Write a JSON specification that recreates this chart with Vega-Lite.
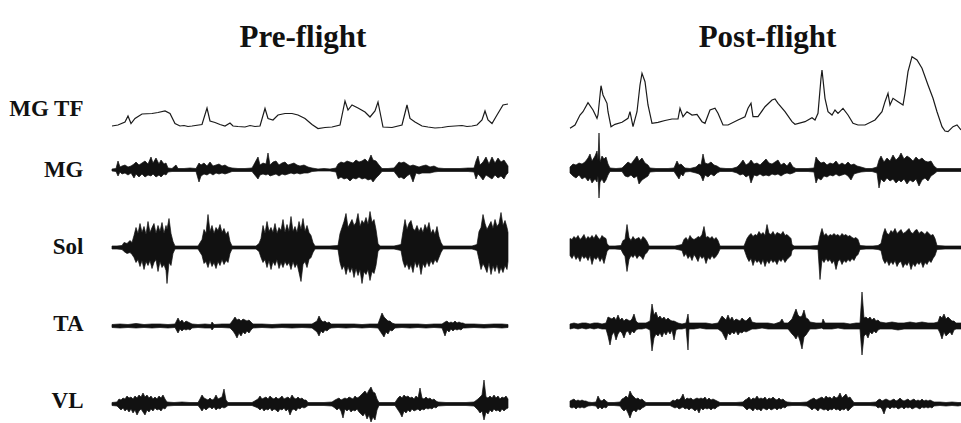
{
"$schema": "https://vega.github.io/schema/vega-lite/v6.json",
"autosize": {"type": "pad"},
"padding": {"left": 8, "top": 22, "right": 0, "bottom": 0},
"config": {"view": {"stroke": null}, "font": "Liberation Serif"},
"columns": 2,
"align": "each",
"bounds": "flush",
"spacing": {"row": 0, "column": 62},
"concat": [
 {"width": 396, "height": 84, "data": {"name": "preTF"},
  "title": {"text": "Pre-flight", "fontSize": 31, "fontWeight": "bold", "font": "Liberation Serif", "anchor": "middle", "dx": -7, "offset": -4, "color": "#111"},
  "mark": {"type": "line", "stroke": "#1a1a1a", "strokeWidth": 1.2},
  "encoding": {"x": {"field": "t", "type": "quantitative", "scale": {"domain": [0, 396], "nice": false, "zero": false}, "axis": null},
   "y": {"field": "v", "type": "quantitative", "scale": {"domain": [-8, 76], "nice": false, "zero": false},
    "axis": {"title": "MG TF", "titleAngle": 0, "titleAlign": "right", "titleBaseline": "middle", "titleX": -29, "titleY": 58, "titleFontSize": 23, "titleFontWeight": "bold", "titleFont": "Liberation Serif", "titleColor": "#111", "domain": false, "ticks": false, "labels": false, "grid": false}}}},
 {"width": 391, "height": 84, "data": {"name": "postTF"},
  "title": {"text": "Post-flight", "fontSize": 31, "fontWeight": "bold", "font": "Liberation Serif", "anchor": "middle", "dx": 2, "offset": -4, "color": "#111"},
  "mark": {"type": "line", "stroke": "#1a1a1a", "strokeWidth": 1.2},
  "encoding": {"x": {"field": "t", "type": "quantitative", "scale": {"domain": [0, 391], "nice": false, "zero": false}, "axis": null},
   "y": {"field": "v", "type": "quantitative", "scale": {"domain": [-8, 76], "nice": false, "zero": false}, "axis": null}}},
 {"width": 396, "height": 72, "data": {"name": "preMG"},
  "mark": {"type": "area", "fill": "#111", "stroke": "#111", "strokeWidth": 0.7},
  "encoding": {"x": {"field": "t", "type": "quantitative", "scale": {"domain": [0, 396], "nice": false, "zero": false}, "axis": null},
   "y": {"field": "hi", "type": "quantitative", "scale": {"domain": [-36, 36], "nice": false, "zero": false},
    "axis": {"title": "MG", "titleAngle": 0, "titleAlign": "right", "titleBaseline": "middle", "titleX": -29, "titleY": 35, "titleFontSize": 23, "titleFontWeight": "bold", "titleFont": "Liberation Serif", "titleColor": "#111", "domain": false, "ticks": false, "labels": false, "grid": false}},
   "y2": {"field": "lo"}}},
 {"width": 391, "height": 72, "data": {"name": "postMG"},
  "mark": {"type": "area", "fill": "#111", "stroke": "#111", "strokeWidth": 0.7},
  "encoding": {"x": {"field": "t", "type": "quantitative", "scale": {"domain": [0, 391], "nice": false, "zero": false}, "axis": null},
   "y": {"field": "hi", "type": "quantitative", "scale": {"domain": [-36, 36], "nice": false, "zero": false}, "axis": null},
   "y2": {"field": "lo"}}},
 {"width": 396, "height": 83, "data": {"name": "preSol"},
  "mark": {"type": "area", "fill": "#111", "stroke": "#111", "strokeWidth": 0.7},
  "encoding": {"x": {"field": "t", "type": "quantitative", "scale": {"domain": [0, 396], "nice": false, "zero": false}, "axis": null},
   "y": {"field": "hi", "type": "quantitative", "scale": {"domain": [-41.5, 41.5], "nice": false, "zero": false},
    "axis": {"title": "Sol", "titleAngle": 0, "titleAlign": "right", "titleBaseline": "middle", "titleX": -29, "titleY": 40, "titleFontSize": 23, "titleFontWeight": "bold", "titleFont": "Liberation Serif", "titleColor": "#111", "domain": false, "ticks": false, "labels": false, "grid": false}},
   "y2": {"field": "lo"}}},
 {"width": 391, "height": 83, "data": {"name": "postSol"},
  "mark": {"type": "area", "fill": "#111", "stroke": "#111", "strokeWidth": 0.7},
  "encoding": {"x": {"field": "t", "type": "quantitative", "scale": {"domain": [0, 391], "nice": false, "zero": false}, "axis": null},
   "y": {"field": "hi", "type": "quantitative", "scale": {"domain": [-41.5, 41.5], "nice": false, "zero": false}, "axis": null},
   "y2": {"field": "lo"}}},
 {"width": 396, "height": 74, "data": {"name": "preTA"},
  "mark": {"type": "area", "fill": "#111", "stroke": "#111", "strokeWidth": 0.7},
  "encoding": {"x": {"field": "t", "type": "quantitative", "scale": {"domain": [0, 396], "nice": false, "zero": false}, "axis": null},
   "y": {"field": "hi", "type": "quantitative", "scale": {"domain": [-37, 37], "nice": false, "zero": false},
    "axis": {"title": "TA", "titleAngle": 0, "titleAlign": "right", "titleBaseline": "middle", "titleX": -29, "titleY": 34, "titleFontSize": 23, "titleFontWeight": "bold", "titleFont": "Liberation Serif", "titleColor": "#111", "domain": false, "ticks": false, "labels": false, "grid": false}},
   "y2": {"field": "lo"}}},
 {"width": 391, "height": 74, "data": {"name": "postTA"},
  "mark": {"type": "area", "fill": "#111", "stroke": "#111", "strokeWidth": 0.7},
  "encoding": {"x": {"field": "t", "type": "quantitative", "scale": {"domain": [0, 391], "nice": false, "zero": false}, "axis": null},
   "y": {"field": "hi", "type": "quantitative", "scale": {"domain": [-37, 37], "nice": false, "zero": false}, "axis": null},
   "y2": {"field": "lo"}}},
 {"width": 396, "height": 60, "data": {"name": "preVL"},
  "mark": {"type": "area", "fill": "#111", "stroke": "#111", "strokeWidth": 0.7},
  "encoding": {"x": {"field": "t", "type": "quantitative", "scale": {"domain": [0, 396], "nice": false, "zero": false}, "axis": null},
   "y": {"field": "hi", "type": "quantitative", "scale": {"domain": [-19, 41], "nice": false, "zero": false},
    "axis": {"title": "VL", "titleAngle": 0, "titleAlign": "right", "titleBaseline": "middle", "titleX": -29, "titleY": 37, "titleFontSize": 23, "titleFontWeight": "bold", "titleFont": "Liberation Serif", "titleColor": "#111", "domain": false, "ticks": false, "labels": false, "grid": false}},
   "y2": {"field": "lo"}}},
 {"width": 391, "height": 60, "data": {"name": "postVL"},
  "mark": {"type": "area", "fill": "#111", "stroke": "#111", "strokeWidth": 0.7},
  "encoding": {"x": {"field": "t", "type": "quantitative", "scale": {"domain": [0, 391], "nice": false, "zero": false}, "axis": null},
   "y": {"field": "hi", "type": "quantitative", "scale": {"domain": [-19, 41], "nice": false, "zero": false}, "axis": null},
   "y2": {"field": "lo"}}}
],
"datasets": {
"preTF": [{"t":0,"v":0},{"t":6,"v":1},{"t":13,"v":4},{"t":16,"v":10},{"t":19,"v":2.5},{"t":23,"v":7.5},{"t":30,"v":12},{"t":40,"v":12.5},{"t":46,"v":13.5},{"t":53,"v":15},{"t":58,"v":12.5},{"t":63,"v":2.5},{"t":68,"v":0},{"t":72,"v":0.5},{"t":76,"v":-0.5},{"t":80,"v":0},{"t":90,"v":1.5},{"t":95,"v":18},{"t":98,"v":5},{"t":103,"v":3.5},{"t":108,"v":1.5},{"t":113,"v":0},{"t":118,"v":3},{"t":121,"v":0},{"t":126,"v":-0.5},{"t":133,"v":-1},{"t":138,"v":0.5},{"t":143,"v":-0.5},{"t":148,"v":0},{"t":153,"v":17.5},{"t":156,"v":7.5},{"t":161,"v":6},{"t":166,"v":11},{"t":173,"v":12.5},{"t":180,"v":12.5},{"t":186,"v":11},{"t":193,"v":7.5},{"t":200,"v":1.5},{"t":206,"v":-2.5},{"t":213,"v":-1.5},{"t":220,"v":-1},{"t":228,"v":1},{"t":233,"v":25},{"t":236,"v":16},{"t":240,"v":21},{"t":246,"v":18},{"t":253,"v":14},{"t":258,"v":9},{"t":263,"v":15},{"t":266,"v":24},{"t":268,"v":14},{"t":271,"v":-1},{"t":280,"v":-1.5},{"t":290,"v":1},{"t":295,"v":21},{"t":298,"v":7.5},{"t":303,"v":4},{"t":310,"v":0},{"t":316,"v":-1},{"t":323,"v":-2},{"t":330,"v":-1.5},{"t":336,"v":-0.5},{"t":343,"v":0},{"t":350,"v":0.5},{"t":355,"v":-0.5},{"t":360,"v":0},{"t":365,"v":1},{"t":370,"v":6},{"t":373,"v":15},{"t":376,"v":6},{"t":380,"v":2.5},{"t":385,"v":11},{"t":391,"v":21},{"t":396,"v":22}],
"postTF": [{"t":0,"v":-2.3},{"t":5,"v":1},{"t":10,"v":11},{"t":13,"v":14.3},{"t":18,"v":23.3},{"t":23,"v":16},{"t":27,"v":7.7},{"t":28,"v":11},{"t":31,"v":40.3},{"t":33,"v":31},{"t":37,"v":22.7},{"t":38,"v":14.3},{"t":41,"v":-0.7},{"t":45,"v":1.7},{"t":52,"v":3.7},{"t":58,"v":7.7},{"t":60,"v":14.3},{"t":63,"v":-0.7},{"t":67,"v":14.3},{"t":70,"v":41},{"t":72,"v":52.7},{"t":75,"v":44.3},{"t":78,"v":21},{"t":82,"v":2.7},{"t":88,"v":3.7},{"t":95,"v":5.5},{"t":102,"v":7},{"t":108,"v":7},{"t":110,"v":17.7},{"t":113,"v":9.3},{"t":117,"v":14.3},{"t":122,"v":11},{"t":127,"v":11.7},{"t":132,"v":4.3},{"t":135,"v":2.7},{"t":140,"v":16},{"t":145,"v":17.7},{"t":148,"v":12.7},{"t":153,"v":1},{"t":158,"v":1},{"t":168,"v":6},{"t":175,"v":9.3},{"t":178,"v":17.7},{"t":181,"v":22.7},{"t":183,"v":9.3},{"t":188,"v":9.3},{"t":195,"v":19.3},{"t":202,"v":26},{"t":205,"v":27},{"t":208,"v":22.7},{"t":215,"v":14.3},{"t":222,"v":4.3},{"t":225,"v":1.7},{"t":235,"v":4.3},{"t":242,"v":8.3},{"t":245,"v":6},{"t":248,"v":12.7},{"t":251,"v":47.7},{"t":252,"v":56},{"t":255,"v":27.7},{"t":258,"v":14.3},{"t":262,"v":11},{"t":265,"v":16},{"t":268,"v":12.7},{"t":273,"v":17.7},{"t":278,"v":11},{"t":283,"v":2.7},{"t":288,"v":1},{"t":295,"v":1},{"t":305,"v":6},{"t":312,"v":14.3},{"t":315,"v":24.3},{"t":318,"v":32.7},{"t":320,"v":21},{"t":323,"v":27.7},{"t":328,"v":24.3},{"t":333,"v":21},{"t":335,"v":32.7},{"t":338,"v":54.3},{"t":342,"v":69.3},{"t":347,"v":66},{"t":352,"v":57.7},{"t":358,"v":41},{"t":363,"v":27.7},{"t":367,"v":14.3},{"t":372,"v":-0.7},{"t":375,"v":-5},{"t":378,"v":-5.7},{"t":383,"v":-0.7},{"t":387,"v":1},{"t":391,"v":-4}],
"preMG": [{"t":0,"lo":-1,"hi":1},{"t":4,"lo":-1.5,"hi":1.5},{"t":6,"lo":-6,"hi":9},{"t":8,"lo":-2,"hi":3},{"t":10,"lo":-4,"hi":4},{"t":13,"lo":-3,"hi":5},{"t":16,"lo":-5,"hi":3},{"t":19,"lo":-3,"hi":4},{"t":22,"lo":-8,"hi":6},{"t":24,"lo":-4,"hi":8},{"t":27,"lo":-7,"hi":5},{"t":30,"lo":-4,"hi":7},{"t":33,"lo":-7,"hi":9},{"t":36,"lo":-5,"hi":6},{"t":39,"lo":-6,"hi":13},{"t":41,"lo":-4,"hi":7},{"t":44,"lo":-7,"hi":12},{"t":47,"lo":-5,"hi":6},{"t":49,"lo":-7,"hi":10},{"t":52,"lo":-4,"hi":6},{"t":54,"lo":-5,"hi":7},{"t":56,"lo":-2,"hi":2},{"t":60,"lo":-1.5,"hi":1.5},{"t":64,"lo":-1.5,"hi":5},{"t":66,"lo":-1.5,"hi":1.5},{"t":72,"lo":-1.5,"hi":1.5},{"t":78,"lo":-1.5,"hi":2},{"t":84,"lo":-1.5,"hi":1.5},{"t":87,"lo":-12,"hi":7},{"t":89,"lo":-6,"hi":5},{"t":92,"lo":-4,"hi":7},{"t":95,"lo":-5,"hi":4},{"t":98,"lo":-3,"hi":8},{"t":101,"lo":-5,"hi":4},{"t":104,"lo":-3,"hi":5},{"t":107,"lo":-4,"hi":6},{"t":110,"lo":-3,"hi":4},{"t":113,"lo":-4,"hi":5},{"t":116,"lo":-3,"hi":3},{"t":120,"lo":-1.5,"hi":2},{"t":126,"lo":-1.5,"hi":1.5},{"t":133,"lo":-1.5,"hi":1.5},{"t":140,"lo":-1.5,"hi":2},{"t":146,"lo":-9,"hi":13},{"t":148,"lo":-5,"hi":5},{"t":151,"lo":-4,"hi":7},{"t":154,"lo":-5,"hi":6},{"t":156,"lo":-4,"hi":17},{"t":158,"lo":-6,"hi":5},{"t":161,"lo":-5,"hi":8},{"t":164,"lo":-4,"hi":9},{"t":167,"lo":-6,"hi":5},{"t":170,"lo":-4,"hi":7},{"t":173,"lo":-5,"hi":8},{"t":176,"lo":-4,"hi":5},{"t":179,"lo":-3,"hi":6},{"t":182,"lo":-4,"hi":7},{"t":185,"lo":-3,"hi":5},{"t":188,"lo":-4,"hi":4},{"t":192,"lo":-3,"hi":5},{"t":196,"lo":-3,"hi":3},{"t":200,"lo":-1.5,"hi":2},{"t":206,"lo":-1,"hi":1},{"t":212,"lo":-1,"hi":1.5},{"t":218,"lo":-1,"hi":1},{"t":224,"lo":-2,"hi":2},{"t":226,"lo":-9,"hi":6},{"t":229,"lo":-7,"hi":8},{"t":232,"lo":-9,"hi":7},{"t":235,"lo":-8,"hi":9},{"t":238,"lo":-11,"hi":8},{"t":241,"lo":-8,"hi":7},{"t":244,"lo":-9,"hi":10},{"t":247,"lo":-7,"hi":8},{"t":250,"lo":-9,"hi":9},{"t":253,"lo":-8,"hi":11},{"t":256,"lo":-10,"hi":8},{"t":259,"lo":-9,"hi":15},{"t":261,"lo":-12,"hi":10},{"t":264,"lo":-8,"hi":9},{"t":267,"lo":-5,"hi":5},{"t":270,"lo":-1.5,"hi":1.5},{"t":276,"lo":-1.5,"hi":1.5},{"t":282,"lo":-1.5,"hi":2},{"t":287,"lo":-8,"hi":8},{"t":289,"lo":-7,"hi":7},{"t":292,"lo":-9,"hi":8},{"t":295,"lo":-6,"hi":6},{"t":298,"lo":-4,"hi":4},{"t":301,"lo":-12,"hi":5},{"t":304,"lo":-3,"hi":4},{"t":307,"lo":-4,"hi":3},{"t":310,"lo":-3,"hi":4},{"t":314,"lo":-3,"hi":5},{"t":318,"lo":-3,"hi":3},{"t":322,"lo":-2,"hi":4},{"t":326,"lo":-1.5,"hi":2},{"t":332,"lo":-1.5,"hi":1.5},{"t":340,"lo":-1.5,"hi":1.5},{"t":348,"lo":-1.5,"hi":1.5},{"t":356,"lo":-1.5,"hi":2},{"t":362,"lo":-2,"hi":2},{"t":364,"lo":-9,"hi":9},{"t":366,"lo":-4,"hi":14},{"t":368,"lo":-6,"hi":5},{"t":371,"lo":-10,"hi":8},{"t":374,"lo":-5,"hi":13},{"t":377,"lo":-7,"hi":6},{"t":380,"lo":-9,"hi":13},{"t":383,"lo":-5,"hi":7},{"t":386,"lo":-8,"hi":12},{"t":389,"lo":-6,"hi":8},{"t":392,"lo":-9,"hi":10},{"t":394,"lo":-5,"hi":7},{"t":396,"lo":-3,"hi":4}],
"postMG": [{"t":0,"lo":-3,"hi":3},{"t":3,"lo":-6,"hi":6},{"t":6,"lo":-8,"hi":5},{"t":9,"lo":-5,"hi":7},{"t":12,"lo":-9,"hi":6},{"t":15,"lo":-7,"hi":8},{"t":18,"lo":-11,"hi":12},{"t":20,"lo":-8,"hi":16},{"t":22,"lo":-13,"hi":9},{"t":25,"lo":-9,"hi":14},{"t":27,"lo":-12,"hi":19},{"t":28,"lo":-6,"hi":10},{"t":29,"lo":-28,"hi":37},{"t":30,"lo":-12,"hi":8},{"t":32,"lo":-9,"hi":14},{"t":34,"lo":-13,"hi":11},{"t":36,"lo":-10,"hi":13},{"t":38,"lo":-5,"hi":6},{"t":40,"lo":-1.5,"hi":2},{"t":46,"lo":-1.5,"hi":1.5},{"t":52,"lo":-1.5,"hi":2},{"t":55,"lo":-6,"hi":5},{"t":58,"lo":-7,"hi":8},{"t":61,"lo":-5,"hi":6},{"t":64,"lo":-8,"hi":10},{"t":67,"lo":-6,"hi":14},{"t":69,"lo":-14,"hi":9},{"t":72,"lo":-10,"hi":12},{"t":75,"lo":-8,"hi":7},{"t":78,"lo":-6,"hi":5},{"t":80,"lo":-2,"hi":2},{"t":86,"lo":-1.5,"hi":1.5},{"t":92,"lo":-1.5,"hi":1.5},{"t":98,"lo":-1.5,"hi":1.5},{"t":104,"lo":-1.5,"hi":2},{"t":107,"lo":-6,"hi":9},{"t":109,"lo":-9,"hi":5},{"t":111,"lo":-4,"hi":6},{"t":113,"lo":-6,"hi":4},{"t":115,"lo":-2,"hi":2},{"t":120,"lo":-1.5,"hi":1.5},{"t":126,"lo":-3,"hi":3},{"t":129,"lo":-4,"hi":6},{"t":131,"lo":-6,"hi":5},{"t":133,"lo":-11,"hi":16},{"t":135,"lo":-5,"hi":7},{"t":138,"lo":-7,"hi":6},{"t":141,"lo":-4,"hi":8},{"t":144,"lo":-6,"hi":5},{"t":147,"lo":-3,"hi":4},{"t":150,"lo":-1.5,"hi":2},{"t":156,"lo":-1.5,"hi":1.5},{"t":162,"lo":-1.5,"hi":1.5},{"t":167,"lo":-3,"hi":3},{"t":170,"lo":-5,"hi":6},{"t":173,"lo":-4,"hi":10},{"t":176,"lo":-7,"hi":5},{"t":179,"lo":-5,"hi":7},{"t":181,"lo":-13,"hi":10},{"t":184,"lo":-5,"hi":6},{"t":187,"lo":-6,"hi":7},{"t":190,"lo":-4,"hi":5},{"t":193,"lo":-6,"hi":8},{"t":196,"lo":-5,"hi":11},{"t":199,"lo":-6,"hi":7},{"t":202,"lo":-4,"hi":6},{"t":205,"lo":-5,"hi":8},{"t":208,"lo":-4,"hi":10},{"t":211,"lo":-6,"hi":5},{"t":214,"lo":-4,"hi":7},{"t":217,"lo":-3,"hi":4},{"t":220,"lo":-4,"hi":8},{"t":223,"lo":-3,"hi":3},{"t":226,"lo":-1.5,"hi":1.5},{"t":232,"lo":-1.5,"hi":1.5},{"t":238,"lo":-1.5,"hi":1.5},{"t":244,"lo":-2,"hi":2},{"t":246,"lo":-13,"hi":13},{"t":248,"lo":-8,"hi":10},{"t":251,"lo":-10,"hi":7},{"t":254,"lo":-6,"hi":8},{"t":257,"lo":-7,"hi":5},{"t":260,"lo":-5,"hi":7},{"t":263,"lo":-6,"hi":6},{"t":266,"lo":-4,"hi":9},{"t":269,"lo":-6,"hi":5},{"t":272,"lo":-5,"hi":7},{"t":275,"lo":-4,"hi":5},{"t":278,"lo":-6,"hi":8},{"t":281,"lo":-10,"hi":5},{"t":284,"lo":-4,"hi":6},{"t":287,"lo":-3,"hi":4},{"t":291,"lo":-2,"hi":3},{"t":296,"lo":-1.5,"hi":1.5},{"t":302,"lo":-1.5,"hi":1.5},{"t":307,"lo":-3,"hi":3},{"t":309,"lo":-18,"hi":10},{"t":311,"lo":-9,"hi":14},{"t":314,"lo":-12,"hi":8},{"t":317,"lo":-8,"hi":12},{"t":320,"lo":-11,"hi":9},{"t":323,"lo":-9,"hi":15},{"t":326,"lo":-13,"hi":10},{"t":329,"lo":-10,"hi":13},{"t":331,"lo":-12,"hi":17},{"t":334,"lo":-9,"hi":11},{"t":337,"lo":-14,"hi":14},{"t":340,"lo":-10,"hi":12},{"t":343,"lo":-12,"hi":9},{"t":346,"lo":-9,"hi":13},{"t":349,"lo":-16,"hi":10},{"t":352,"lo":-10,"hi":12},{"t":355,"lo":-8,"hi":9},{"t":358,"lo":-11,"hi":8},{"t":361,"lo":-6,"hi":9},{"t":364,"lo":-4,"hi":4},{"t":367,"lo":-1.5,"hi":1.5},{"t":375,"lo":-1.5,"hi":1.5},{"t":383,"lo":-1.5,"hi":1.5},{"t":391,"lo":-1.5,"hi":1.5}],
"preSol": [{"t":0,"lo":-1.5,"hi":1.5},{"t":5,"lo":-1.5,"hi":1.5},{"t":10,"lo":-2,"hi":2},{"t":12,"lo":-4,"hi":5},{"t":15,"lo":-6,"hi":4},{"t":18,"lo":-5,"hi":7},{"t":20,"lo":-7,"hi":5},{"t":22,"lo":-10,"hi":12},{"t":24,"lo":-15,"hi":20},{"t":26,"lo":-12,"hi":14},{"t":28,"lo":-19,"hi":24},{"t":30,"lo":-13,"hi":15},{"t":32,"lo":-22,"hi":21},{"t":34,"lo":-14,"hi":13},{"t":36,"lo":-18,"hi":26},{"t":38,"lo":-13,"hi":15},{"t":40,"lo":-21,"hi":20},{"t":42,"lo":-15,"hi":24},{"t":44,"lo":-12,"hi":14},{"t":46,"lo":-24,"hi":22},{"t":48,"lo":-14,"hi":16},{"t":50,"lo":-20,"hi":25},{"t":52,"lo":-17,"hi":14},{"t":54,"lo":-23,"hi":22},{"t":55,"lo":-36,"hi":18},{"t":57,"lo":-15,"hi":29},{"t":59,"lo":-18,"hi":14},{"t":61,"lo":-6,"hi":6},{"t":63,"lo":-1.5,"hi":1.5},{"t":70,"lo":-1.5,"hi":1.5},{"t":78,"lo":-1.5,"hi":1.5},{"t":86,"lo":-1.5,"hi":1.5},{"t":90,"lo":-8,"hi":8},{"t":92,"lo":-16,"hi":18},{"t":94,"lo":-14,"hi":14},{"t":96,"lo":-20,"hi":33},{"t":98,"lo":-13,"hi":16},{"t":100,"lo":-19,"hi":22},{"t":102,"lo":-15,"hi":14},{"t":104,"lo":-21,"hi":20},{"t":106,"lo":-14,"hi":17},{"t":108,"lo":-18,"hi":23},{"t":110,"lo":-12,"hi":15},{"t":112,"lo":-17,"hi":19},{"t":114,"lo":-13,"hi":13},{"t":116,"lo":-15,"hi":16},{"t":118,"lo":-6,"hi":6},{"t":120,"lo":-1.5,"hi":1.5},{"t":128,"lo":-1.5,"hi":1.5},{"t":136,"lo":-1.5,"hi":1.5},{"t":144,"lo":-1.5,"hi":1.5},{"t":147,"lo":-4,"hi":4},{"t":149,"lo":-10,"hi":9},{"t":151,"lo":-15,"hi":22},{"t":153,"lo":-12,"hi":14},{"t":155,"lo":-20,"hi":26},{"t":157,"lo":-13,"hi":16},{"t":159,"lo":-22,"hi":20},{"t":161,"lo":-14,"hi":15},{"t":163,"lo":-18,"hi":24},{"t":165,"lo":-12,"hi":14},{"t":167,"lo":-21,"hi":20},{"t":169,"lo":-15,"hi":17},{"t":171,"lo":-20,"hi":28},{"t":173,"lo":-14,"hi":15},{"t":175,"lo":-18,"hi":23},{"t":177,"lo":-15,"hi":16},{"t":179,"lo":-22,"hi":31},{"t":181,"lo":-14,"hi":16},{"t":183,"lo":-20,"hi":21},{"t":185,"lo":-16,"hi":15},{"t":187,"lo":-25,"hi":26},{"t":189,"lo":-34,"hi":18},{"t":191,"lo":-17,"hi":29},{"t":193,"lo":-14,"hi":16},{"t":195,"lo":-20,"hi":22},{"t":197,"lo":-12,"hi":15},{"t":199,"lo":-10,"hi":12},{"t":201,"lo":-5,"hi":5},{"t":203,"lo":-1.5,"hi":1.5},{"t":210,"lo":-1.5,"hi":1.5},{"t":218,"lo":-1.5,"hi":1.5},{"t":226,"lo":-2,"hi":2},{"t":228,"lo":-15,"hi":14},{"t":230,"lo":-22,"hi":20},{"t":232,"lo":-18,"hi":26},{"t":234,"lo":-27,"hi":34},{"t":236,"lo":-19,"hi":20},{"t":238,"lo":-25,"hi":24},{"t":240,"lo":-20,"hi":28},{"t":242,"lo":-30,"hi":22},{"t":244,"lo":-21,"hi":25},{"t":246,"lo":-28,"hi":34},{"t":248,"lo":-22,"hi":21},{"t":250,"lo":-36,"hi":27},{"t":252,"lo":-24,"hi":24},{"t":254,"lo":-27,"hi":30},{"t":256,"lo":-22,"hi":23},{"t":258,"lo":-33,"hi":36},{"t":260,"lo":-24,"hi":25},{"t":262,"lo":-26,"hi":28},{"t":264,"lo":-18,"hi":18},{"t":266,"lo":-4,"hi":4},{"t":268,"lo":-1.5,"hi":1.5},{"t":275,"lo":-1.5,"hi":1.5},{"t":282,"lo":-1.5,"hi":1.5},{"t":289,"lo":-3,"hi":3},{"t":291,"lo":-14,"hi":16},{"t":293,"lo":-20,"hi":28},{"t":295,"lo":-16,"hi":18},{"t":297,"lo":-22,"hi":24},{"t":299,"lo":-17,"hi":27},{"t":301,"lo":-25,"hi":19},{"t":303,"lo":-14,"hi":17},{"t":305,"lo":-20,"hi":22},{"t":307,"lo":-15,"hi":16},{"t":309,"lo":-27,"hi":20},{"t":311,"lo":-16,"hi":15},{"t":313,"lo":-20,"hi":23},{"t":315,"lo":-14,"hi":18},{"t":317,"lo":-19,"hi":25},{"t":319,"lo":-13,"hi":14},{"t":321,"lo":-17,"hi":18},{"t":323,"lo":-12,"hi":13},{"t":325,"lo":-15,"hi":21},{"t":327,"lo":-10,"hi":11},{"t":329,"lo":-5,"hi":5},{"t":331,"lo":-1.5,"hi":1.5},{"t":340,"lo":-1.5,"hi":1.5},{"t":350,"lo":-1.5,"hi":1.5},{"t":360,"lo":-1.5,"hi":1.5},{"t":365,"lo":-3,"hi":3},{"t":367,"lo":-12,"hi":16},{"t":369,"lo":-22,"hi":20},{"t":371,"lo":-16,"hi":33},{"t":373,"lo":-20,"hi":24},{"t":375,"lo":-25,"hi":18},{"t":377,"lo":-15,"hi":22},{"t":379,"lo":-27,"hi":26},{"t":381,"lo":-18,"hi":19},{"t":383,"lo":-24,"hi":28},{"t":385,"lo":-17,"hi":21},{"t":387,"lo":-26,"hi":24},{"t":389,"lo":-20,"hi":35},{"t":391,"lo":-25,"hi":22},{"t":393,"lo":-18,"hi":27},{"t":395,"lo":-22,"hi":20},{"t":396,"lo":-14,"hi":15}],
"postSol": [{"t":0,"lo":-8,"hi":9},{"t":2,"lo":-11,"hi":8},{"t":4,"lo":-7,"hi":11},{"t":6,"lo":-12,"hi":9},{"t":8,"lo":-9,"hi":12},{"t":10,"lo":-14,"hi":8},{"t":12,"lo":-8,"hi":10},{"t":14,"lo":-11,"hi":13},{"t":16,"lo":-9,"hi":8},{"t":18,"lo":-13,"hi":11},{"t":20,"lo":-8,"hi":9},{"t":22,"lo":-17,"hi":12},{"t":24,"lo":-10,"hi":9},{"t":26,"lo":-12,"hi":13},{"t":28,"lo":-9,"hi":10},{"t":30,"lo":-14,"hi":8},{"t":32,"lo":-10,"hi":12},{"t":34,"lo":-16,"hi":10},{"t":36,"lo":-8,"hi":9},{"t":37,"lo":-4,"hi":4},{"t":39,"lo":-1.5,"hi":1.5},{"t":45,"lo":-1.5,"hi":1.5},{"t":51,"lo":-2,"hi":2},{"t":53,"lo":-6,"hi":7},{"t":55,"lo":-9,"hi":8},{"t":57,"lo":-24,"hi":23},{"t":59,"lo":-12,"hi":10},{"t":61,"lo":-8,"hi":7},{"t":63,"lo":-10,"hi":11},{"t":65,"lo":-7,"hi":8},{"t":67,"lo":-11,"hi":9},{"t":69,"lo":-8,"hi":10},{"t":71,"lo":-9,"hi":7},{"t":73,"lo":-12,"hi":11},{"t":75,"lo":-7,"hi":9},{"t":77,"lo":-5,"hi":6},{"t":79,"lo":-1.5,"hi":1.5},{"t":87,"lo":-1.5,"hi":1.5},{"t":96,"lo":-1.5,"hi":1.5},{"t":105,"lo":-1.5,"hi":1.5},{"t":112,"lo":-3,"hi":3},{"t":114,"lo":-9,"hi":8},{"t":116,"lo":-6,"hi":10},{"t":118,"lo":-11,"hi":7},{"t":120,"lo":-8,"hi":12},{"t":122,"lo":-13,"hi":9},{"t":124,"lo":-7,"hi":8},{"t":126,"lo":-10,"hi":9},{"t":128,"lo":-14,"hi":11},{"t":130,"lo":-8,"hi":10},{"t":132,"lo":-11,"hi":13},{"t":134,"lo":-9,"hi":21},{"t":136,"lo":-16,"hi":10},{"t":138,"lo":-10,"hi":11},{"t":140,"lo":-12,"hi":9},{"t":142,"lo":-8,"hi":11},{"t":144,"lo":-11,"hi":8},{"t":146,"lo":-9,"hi":10},{"t":148,"lo":-6,"hi":7},{"t":150,"lo":-1.5,"hi":1.5},{"t":158,"lo":-1.5,"hi":1.5},{"t":166,"lo":-1.5,"hi":1.5},{"t":174,"lo":-1.5,"hi":1.5},{"t":177,"lo":-10,"hi":9},{"t":179,"lo":-14,"hi":12},{"t":181,"lo":-11,"hi":14},{"t":183,"lo":-18,"hi":11},{"t":185,"lo":-12,"hi":13},{"t":187,"lo":-15,"hi":12},{"t":189,"lo":-13,"hi":16},{"t":191,"lo":-17,"hi":13},{"t":193,"lo":-12,"hi":15},{"t":195,"lo":-19,"hi":12},{"t":197,"lo":-13,"hi":23},{"t":199,"lo":-16,"hi":14},{"t":201,"lo":-12,"hi":13},{"t":203,"lo":-15,"hi":16},{"t":205,"lo":-13,"hi":12},{"t":207,"lo":-17,"hi":15},{"t":209,"lo":-12,"hi":14},{"t":211,"lo":-14,"hi":13},{"t":213,"lo":-11,"hi":16},{"t":215,"lo":-15,"hi":12},{"t":217,"lo":-12,"hi":13},{"t":219,"lo":-10,"hi":11},{"t":221,"lo":-8,"hi":9},{"t":222,"lo":-3,"hi":3},{"t":224,"lo":-1.5,"hi":1.5},{"t":232,"lo":-1.5,"hi":1.5},{"t":240,"lo":-1.5,"hi":1.5},{"t":248,"lo":-2,"hi":2},{"t":250,"lo":-32,"hi":12},{"t":252,"lo":-12,"hi":19},{"t":254,"lo":-15,"hi":12},{"t":256,"lo":-11,"hi":14},{"t":258,"lo":-14,"hi":11},{"t":260,"lo":-12,"hi":13},{"t":262,"lo":-16,"hi":12},{"t":264,"lo":-13,"hi":14},{"t":266,"lo":-22,"hi":12},{"t":268,"lo":-14,"hi":13},{"t":270,"lo":-12,"hi":11},{"t":272,"lo":-17,"hi":14},{"t":274,"lo":-13,"hi":12},{"t":276,"lo":-15,"hi":13},{"t":278,"lo":-12,"hi":11},{"t":280,"lo":-14,"hi":12},{"t":282,"lo":-11,"hi":10},{"t":284,"lo":-13,"hi":9},{"t":286,"lo":-9,"hi":10},{"t":288,"lo":-7,"hi":8},{"t":290,"lo":-2,"hi":2},{"t":296,"lo":-1.5,"hi":1.5},{"t":303,"lo":-1.5,"hi":1.5},{"t":308,"lo":-2,"hi":2},{"t":311,"lo":-3,"hi":4},{"t":313,"lo":-12,"hi":13},{"t":315,"lo":-16,"hi":19},{"t":317,"lo":-13,"hi":14},{"t":319,"lo":-18,"hi":13},{"t":321,"lo":-14,"hi":17},{"t":323,"lo":-17,"hi":15},{"t":325,"lo":-13,"hi":19},{"t":327,"lo":-19,"hi":14},{"t":329,"lo":-15,"hi":16},{"t":331,"lo":-14,"hi":18},{"t":333,"lo":-20,"hi":14},{"t":335,"lo":-16,"hi":15},{"t":337,"lo":-18,"hi":17},{"t":339,"lo":-14,"hi":19},{"t":341,"lo":-22,"hi":15},{"t":343,"lo":-16,"hi":14},{"t":345,"lo":-19,"hi":17},{"t":347,"lo":-15,"hi":18},{"t":349,"lo":-17,"hi":14},{"t":351,"lo":-14,"hi":16},{"t":353,"lo":-20,"hi":15},{"t":355,"lo":-15,"hi":13},{"t":357,"lo":-17,"hi":16},{"t":359,"lo":-13,"hi":14},{"t":361,"lo":-15,"hi":12},{"t":363,"lo":-11,"hi":13},{"t":365,"lo":-8,"hi":9},{"t":367,"lo":-2,"hi":2},{"t":375,"lo":-1.5,"hi":1.5},{"t":383,"lo":-1.5,"hi":1.5},{"t":391,"lo":-1.5,"hi":1.5}],
"preTA": [{"t":0,"lo":-1.5,"hi":1.5},{"t":8,"lo":-2,"hi":2},{"t":16,"lo":-1.5,"hi":1.5},{"t":24,"lo":-2,"hi":2.5},{"t":32,"lo":-1.5,"hi":1.5},{"t":40,"lo":-2,"hi":2},{"t":48,"lo":-1.5,"hi":2},{"t":56,"lo":-2,"hi":1.5},{"t":63,"lo":-1.5,"hi":2},{"t":66,"lo":-7,"hi":8},{"t":68,"lo":-3,"hi":4},{"t":70,"lo":-5,"hi":6},{"t":72,"lo":-3,"hi":3},{"t":74,"lo":-4,"hi":5},{"t":76,"lo":-3,"hi":4},{"t":78,"lo":-4,"hi":3},{"t":80,"lo":-2,"hi":2},{"t":86,"lo":-1.5,"hi":1.5},{"t":93,"lo":-2,"hi":2},{"t":99,"lo":-2,"hi":1.5},{"t":100,"lo":-4,"hi":4},{"t":102,"lo":-1.5,"hi":1.5},{"t":110,"lo":-1.5,"hi":2},{"t":118,"lo":-2,"hi":2},{"t":121,"lo":-5,"hi":6},{"t":123,"lo":-8,"hi":9},{"t":125,"lo":-12,"hi":6},{"t":127,"lo":-7,"hi":7},{"t":129,"lo":-10,"hi":5},{"t":131,"lo":-6,"hi":7},{"t":133,"lo":-8,"hi":6},{"t":135,"lo":-5,"hi":5},{"t":137,"lo":-7,"hi":6},{"t":139,"lo":-4,"hi":4},{"t":141,"lo":-2,"hi":2},{"t":150,"lo":-1.5,"hi":2},{"t":160,"lo":-2,"hi":1.5},{"t":170,"lo":-1.5,"hi":2},{"t":180,"lo":-2,"hi":2},{"t":190,"lo":-1.5,"hi":2},{"t":200,"lo":-2,"hi":2},{"t":205,"lo":-6,"hi":5},{"t":207,"lo":-10,"hi":10},{"t":209,"lo":-5,"hi":6},{"t":211,"lo":-7,"hi":4},{"t":213,"lo":-4,"hi":5},{"t":215,"lo":-5,"hi":3},{"t":217,"lo":-3,"hi":4},{"t":219,"lo":-2,"hi":2},{"t":226,"lo":-1.5,"hi":2},{"t":234,"lo":-2,"hi":2},{"t":242,"lo":-1.5,"hi":2},{"t":250,"lo":-2,"hi":1.5},{"t":258,"lo":-1.5,"hi":2},{"t":266,"lo":-2,"hi":2},{"t":270,"lo":-8,"hi":13},{"t":272,"lo":-11,"hi":9},{"t":274,"lo":-6,"hi":7},{"t":276,"lo":-8,"hi":5},{"t":278,"lo":-4,"hi":5},{"t":280,"lo":-5,"hi":3},{"t":283,"lo":-2,"hi":2},{"t":290,"lo":-1.5,"hi":2},{"t":298,"lo":-2,"hi":2},{"t":306,"lo":-1.5,"hi":2},{"t":314,"lo":-2,"hi":1.5},{"t":322,"lo":-1.5,"hi":2},{"t":330,"lo":-2,"hi":2},{"t":333,"lo":-10,"hi":4},{"t":335,"lo":-4,"hi":5},{"t":337,"lo":-6,"hi":3},{"t":339,"lo":-3,"hi":4},{"t":341,"lo":-5,"hi":3},{"t":343,"lo":-3,"hi":5},{"t":345,"lo":-4,"hi":3},{"t":347,"lo":-3,"hi":4},{"t":349,"lo":-4,"hi":3},{"t":351,"lo":-2,"hi":3},{"t":353,"lo":-2,"hi":2},{"t":362,"lo":-1.5,"hi":2},{"t":372,"lo":-2,"hi":1.5},{"t":382,"lo":-1.5,"hi":2},{"t":390,"lo":-2,"hi":2},{"t":396,"lo":-1.5,"hi":1.5}],
"postTA": [{"t":0,"lo":-3,"hi":2},{"t":4,"lo":-2,"hi":3},{"t":8,"lo":-3,"hi":2},{"t":12,"lo":-2,"hi":3},{"t":16,"lo":-3,"hi":3},{"t":20,"lo":-2,"hi":2},{"t":24,"lo":-3,"hi":3},{"t":28,"lo":-2,"hi":3},{"t":32,"lo":-3,"hi":2},{"t":36,"lo":-3,"hi":3},{"t":38,"lo":-10,"hi":9},{"t":40,"lo":-19,"hi":8},{"t":42,"lo":-9,"hi":7},{"t":44,"lo":-6,"hi":9},{"t":46,"lo":-14,"hi":6},{"t":48,"lo":-8,"hi":11},{"t":50,"lo":-5,"hi":6},{"t":52,"lo":-7,"hi":8},{"t":54,"lo":-12,"hi":5},{"t":56,"lo":-6,"hi":7},{"t":58,"lo":-5,"hi":6},{"t":60,"lo":-9,"hi":5},{"t":62,"lo":-5,"hi":7},{"t":64,"lo":-7,"hi":12},{"t":66,"lo":-4,"hi":5},{"t":68,"lo":-3,"hi":3},{"t":72,"lo":-3,"hi":3},{"t":76,"lo":-2,"hi":3},{"t":80,"lo":-4,"hi":5},{"t":82,"lo":-25,"hi":22},{"t":84,"lo":-12,"hi":11},{"t":86,"lo":-8,"hi":14},{"t":88,"lo":-10,"hi":8},{"t":90,"lo":-7,"hi":10},{"t":92,"lo":-11,"hi":7},{"t":94,"lo":-6,"hi":9},{"t":96,"lo":-9,"hi":6},{"t":98,"lo":-5,"hi":8},{"t":100,"lo":-8,"hi":6},{"t":102,"lo":-4,"hi":5},{"t":104,"lo":-14,"hi":5},{"t":106,"lo":-4,"hi":4},{"t":108,"lo":-3,"hi":3},{"t":112,"lo":-3,"hi":2},{"t":116,"lo":-2,"hi":3},{"t":118,"lo":-24,"hi":12},{"t":119,"lo":-3,"hi":3},{"t":124,"lo":-3,"hi":3},{"t":130,"lo":-2,"hi":3},{"t":136,"lo":-3,"hi":3},{"t":142,"lo":-3,"hi":2},{"t":148,"lo":-3,"hi":3},{"t":152,"lo":-6,"hi":10},{"t":154,"lo":-10,"hi":8},{"t":156,"lo":-14,"hi":6},{"t":158,"lo":-7,"hi":11},{"t":160,"lo":-9,"hi":6},{"t":162,"lo":-6,"hi":9},{"t":164,"lo":-8,"hi":5},{"t":166,"lo":-5,"hi":7},{"t":168,"lo":-9,"hi":6},{"t":170,"lo":-6,"hi":5},{"t":172,"lo":-7,"hi":8},{"t":174,"lo":-5,"hi":6},{"t":176,"lo":-6,"hi":5},{"t":178,"lo":-5,"hi":7},{"t":180,"lo":-4,"hi":9},{"t":182,"lo":-3,"hi":4},{"t":186,"lo":-3,"hi":3},{"t":192,"lo":-2,"hi":3},{"t":198,"lo":-3,"hi":3},{"t":204,"lo":-3,"hi":2},{"t":210,"lo":-3,"hi":4},{"t":212,"lo":-3,"hi":7},{"t":214,"lo":-3,"hi":3},{"t":218,"lo":-3,"hi":3},{"t":222,"lo":-8,"hi":7},{"t":224,"lo":-10,"hi":12},{"t":226,"lo":-13,"hi":17},{"t":228,"lo":-9,"hi":11},{"t":230,"lo":-15,"hi":9},{"t":232,"lo":-23,"hi":10},{"t":234,"lo":-11,"hi":16},{"t":236,"lo":-9,"hi":8},{"t":238,"lo":-6,"hi":7},{"t":240,"lo":-3,"hi":4},{"t":246,"lo":-3,"hi":3},{"t":252,"lo":-2,"hi":3},{"t":253,"lo":-3,"hi":7},{"t":255,"lo":-3,"hi":3},{"t":262,"lo":-3,"hi":3},{"t":268,"lo":-2,"hi":3},{"t":274,"lo":-3,"hi":3},{"t":280,"lo":-3,"hi":2},{"t":286,"lo":-3,"hi":3},{"t":290,"lo":-3,"hi":3},{"t":292,"lo":-29,"hi":34},{"t":294,"lo":-10,"hi":8},{"t":296,"lo":-8,"hi":9},{"t":298,"lo":-12,"hi":7},{"t":300,"lo":-6,"hi":9},{"t":302,"lo":-8,"hi":6},{"t":304,"lo":-5,"hi":8},{"t":306,"lo":-7,"hi":5},{"t":308,"lo":-4,"hi":6},{"t":310,"lo":-3,"hi":4},{"t":316,"lo":-3,"hi":3},{"t":322,"lo":-3,"hi":4},{"t":328,"lo":-4,"hi":3},{"t":334,"lo":-3,"hi":3},{"t":340,"lo":-3,"hi":4},{"t":346,"lo":-3,"hi":3},{"t":352,"lo":-3,"hi":4},{"t":358,"lo":-3,"hi":3},{"t":364,"lo":-3,"hi":3},{"t":368,"lo":-3,"hi":4},{"t":370,"lo":-7,"hi":10},{"t":372,"lo":-13,"hi":8},{"t":374,"lo":-6,"hi":12},{"t":376,"lo":-10,"hi":7},{"t":378,"lo":-8,"hi":9},{"t":380,"lo":-6,"hi":7},{"t":382,"lo":-9,"hi":5},{"t":384,"lo":-4,"hi":5},{"t":386,"lo":-3,"hi":3},{"t":391,"lo":-3,"hi":3}],
"preVL": [{"t":0,"lo":-1.5,"hi":1.5},{"t":5,"lo":-2,"hi":2},{"t":7,"lo":-4,"hi":5},{"t":9,"lo":-6,"hi":4},{"t":11,"lo":-4,"hi":6},{"t":13,"lo":-7,"hi":5},{"t":15,"lo":-5,"hi":8},{"t":17,"lo":-8,"hi":6},{"t":19,"lo":-5,"hi":7},{"t":21,"lo":-9,"hi":5},{"t":23,"lo":-6,"hi":8},{"t":25,"lo":-11,"hi":6},{"t":27,"lo":-7,"hi":9},{"t":29,"lo":-5,"hi":7},{"t":31,"lo":-8,"hi":11},{"t":33,"lo":-11,"hi":7},{"t":35,"lo":-6,"hi":9},{"t":37,"lo":-8,"hi":6},{"t":39,"lo":-5,"hi":8},{"t":41,"lo":-7,"hi":5},{"t":43,"lo":-4,"hi":7},{"t":45,"lo":-6,"hi":5},{"t":47,"lo":-5,"hi":8},{"t":49,"lo":-7,"hi":6},{"t":51,"lo":-4,"hi":9},{"t":53,"lo":-5,"hi":5},{"t":55,"lo":-2,"hi":2},{"t":62,"lo":-1.5,"hi":1.5},{"t":70,"lo":-1.5,"hi":2},{"t":78,"lo":-1.5,"hi":1.5},{"t":86,"lo":-1.5,"hi":1.5},{"t":88,"lo":-4,"hi":5},{"t":90,"lo":-7,"hi":9},{"t":92,"lo":-4,"hi":6},{"t":94,"lo":-6,"hi":5},{"t":96,"lo":-4,"hi":4},{"t":98,"lo":-3,"hi":6},{"t":100,"lo":-5,"hi":4},{"t":102,"lo":-3,"hi":5},{"t":104,"lo":-6,"hi":9},{"t":106,"lo":-4,"hi":5},{"t":108,"lo":-5,"hi":6},{"t":110,"lo":-3,"hi":7},{"t":112,"lo":-4,"hi":15},{"t":114,"lo":-3,"hi":4},{"t":116,"lo":-1.5,"hi":1.5},{"t":124,"lo":-1.5,"hi":1.5},{"t":132,"lo":-1.5,"hi":1.5},{"t":140,"lo":-1.5,"hi":1.5},{"t":146,"lo":-4,"hi":5},{"t":148,"lo":-6,"hi":8},{"t":150,"lo":-4,"hi":5},{"t":152,"lo":-7,"hi":6},{"t":154,"lo":-5,"hi":7},{"t":156,"lo":-6,"hi":5},{"t":158,"lo":-4,"hi":8},{"t":160,"lo":-7,"hi":6},{"t":162,"lo":-5,"hi":5},{"t":164,"lo":-6,"hi":7},{"t":166,"lo":-8,"hi":5},{"t":168,"lo":-5,"hi":6},{"t":170,"lo":-6,"hi":8},{"t":172,"lo":-4,"hi":5},{"t":174,"lo":-7,"hi":6},{"t":176,"lo":-5,"hi":7},{"t":178,"lo":-11,"hi":5},{"t":180,"lo":-6,"hi":9},{"t":182,"lo":-5,"hi":6},{"t":184,"lo":-7,"hi":5},{"t":186,"lo":-4,"hi":7},{"t":188,"lo":-5,"hi":5},{"t":190,"lo":-3,"hi":6},{"t":192,"lo":-4,"hi":4},{"t":194,"lo":-3,"hi":4},{"t":196,"lo":-1.5,"hi":1.5},{"t":204,"lo":-1.5,"hi":1.5},{"t":212,"lo":-1.5,"hi":1.5},{"t":220,"lo":-2,"hi":2},{"t":223,"lo":-4,"hi":4},{"t":225,"lo":-6,"hi":5},{"t":227,"lo":-4,"hi":6},{"t":229,"lo":-7,"hi":4},{"t":231,"lo":-14,"hi":5},{"t":233,"lo":-5,"hi":6},{"t":235,"lo":-7,"hi":5},{"t":237,"lo":-5,"hi":7},{"t":239,"lo":-8,"hi":6},{"t":241,"lo":-6,"hi":5},{"t":243,"lo":-7,"hi":8},{"t":245,"lo":-5,"hi":6},{"t":247,"lo":-8,"hi":7},{"t":249,"lo":-10,"hi":9},{"t":251,"lo":-12,"hi":11},{"t":253,"lo":-9,"hi":13},{"t":255,"lo":-15,"hi":10},{"t":257,"lo":-11,"hi":14},{"t":259,"lo":-18,"hi":17},{"t":261,"lo":-13,"hi":12},{"t":263,"lo":-16,"hi":11},{"t":265,"lo":-6,"hi":5},{"t":267,"lo":-1.5,"hi":1.5},{"t":275,"lo":-1.5,"hi":1.5},{"t":283,"lo":-1.5,"hi":1.5},{"t":286,"lo":-6,"hi":6},{"t":288,"lo":-9,"hi":8},{"t":290,"lo":-13,"hi":6},{"t":292,"lo":-7,"hi":9},{"t":294,"lo":-9,"hi":7},{"t":296,"lo":-6,"hi":8},{"t":298,"lo":-8,"hi":6},{"t":300,"lo":-5,"hi":7},{"t":302,"lo":-7,"hi":5},{"t":304,"lo":-6,"hi":8},{"t":306,"lo":-5,"hi":6},{"t":308,"lo":-7,"hi":16},{"t":310,"lo":-5,"hi":6},{"t":312,"lo":-6,"hi":5},{"t":314,"lo":-4,"hi":7},{"t":316,"lo":-5,"hi":5},{"t":318,"lo":-4,"hi":6},{"t":320,"lo":-5,"hi":4},{"t":322,"lo":-3,"hi":5},{"t":324,"lo":-4,"hi":3},{"t":326,"lo":-2,"hi":2},{"t":334,"lo":-1.5,"hi":1.5},{"t":344,"lo":-1.5,"hi":1.5},{"t":354,"lo":-1.5,"hi":1.5},{"t":362,"lo":-2,"hi":2},{"t":366,"lo":-6,"hi":5},{"t":368,"lo":-9,"hi":7},{"t":370,"lo":-7,"hi":9},{"t":372,"lo":-16,"hi":24},{"t":374,"lo":-8,"hi":7},{"t":376,"lo":-10,"hi":6},{"t":378,"lo":-6,"hi":8},{"t":380,"lo":-8,"hi":6},{"t":382,"lo":-5,"hi":9},{"t":384,"lo":-7,"hi":6},{"t":386,"lo":-6,"hi":8},{"t":388,"lo":-8,"hi":5},{"t":390,"lo":-5,"hi":7},{"t":392,"lo":-7,"hi":6},{"t":394,"lo":-5,"hi":8},{"t":396,"lo":-4,"hi":5}],
"postVL": [{"t":0,"lo":-3,"hi":3},{"t":2,"lo":-4,"hi":4},{"t":4,"lo":-3,"hi":5},{"t":6,"lo":-5,"hi":3},{"t":8,"lo":-3,"hi":4},{"t":10,"lo":-4,"hi":3},{"t":12,"lo":-3,"hi":4},{"t":14,"lo":-4,"hi":3},{"t":16,"lo":-3,"hi":3},{"t":18,"lo":-2,"hi":2},{"t":22,"lo":-1.5,"hi":1.5},{"t":26,"lo":-2,"hi":2},{"t":28,"lo":-5,"hi":8},{"t":30,"lo":-3,"hi":4},{"t":32,"lo":-5,"hi":3},{"t":34,"lo":-3,"hi":5},{"t":36,"lo":-4,"hi":3},{"t":38,"lo":-1.5,"hi":1.5},{"t":44,"lo":-1.5,"hi":1.5},{"t":50,"lo":-2,"hi":2},{"t":52,"lo":-5,"hi":5},{"t":54,"lo":-7,"hi":6},{"t":56,"lo":-5,"hi":8},{"t":58,"lo":-9,"hi":6},{"t":60,"lo":-14,"hi":13},{"t":62,"lo":-8,"hi":9},{"t":64,"lo":-6,"hi":7},{"t":66,"lo":-8,"hi":5},{"t":68,"lo":-5,"hi":6},{"t":70,"lo":-6,"hi":4},{"t":72,"lo":-4,"hi":5},{"t":74,"lo":-3,"hi":3},{"t":76,"lo":-1.5,"hi":1.5},{"t":84,"lo":-1.5,"hi":1.5},{"t":92,"lo":-1.5,"hi":1.5},{"t":100,"lo":-1.5,"hi":1.5},{"t":103,"lo":-3,"hi":4},{"t":105,"lo":-4,"hi":3},{"t":107,"lo":-3,"hi":5},{"t":109,"lo":-5,"hi":4},{"t":111,"lo":-4,"hi":6},{"t":113,"lo":-3,"hi":10},{"t":115,"lo":-5,"hi":4},{"t":117,"lo":-4,"hi":6},{"t":119,"lo":-6,"hi":5},{"t":121,"lo":-4,"hi":6},{"t":123,"lo":-5,"hi":4},{"t":125,"lo":-7,"hi":5},{"t":127,"lo":-5,"hi":6},{"t":129,"lo":-9,"hi":5},{"t":131,"lo":-4,"hi":6},{"t":133,"lo":-6,"hi":5},{"t":135,"lo":-4,"hi":7},{"t":137,"lo":-5,"hi":4},{"t":139,"lo":-4,"hi":6},{"t":141,"lo":-6,"hi":4},{"t":143,"lo":-4,"hi":5},{"t":145,"lo":-5,"hi":4},{"t":147,"lo":-3,"hi":3},{"t":150,"lo":-1.5,"hi":1.5},{"t":158,"lo":-1.5,"hi":1.5},{"t":166,"lo":-1.5,"hi":1.5},{"t":173,"lo":-2,"hi":2},{"t":175,"lo":-4,"hi":4},{"t":177,"lo":-6,"hi":5},{"t":179,"lo":-4,"hi":7},{"t":181,"lo":-5,"hi":4},{"t":183,"lo":-7,"hi":6},{"t":185,"lo":-4,"hi":5},{"t":187,"lo":-6,"hi":8},{"t":189,"lo":-5,"hi":5},{"t":191,"lo":-7,"hi":6},{"t":193,"lo":-4,"hi":5},{"t":195,"lo":-5,"hi":7},{"t":197,"lo":-6,"hi":4},{"t":199,"lo":-4,"hi":6},{"t":201,"lo":-6,"hi":5},{"t":203,"lo":-5,"hi":7},{"t":205,"lo":-4,"hi":5},{"t":207,"lo":-6,"hi":4},{"t":209,"lo":-4,"hi":6},{"t":211,"lo":-5,"hi":4},{"t":213,"lo":-3,"hi":5},{"t":215,"lo":-4,"hi":3},{"t":217,"lo":-2,"hi":2},{"t":222,"lo":-1.5,"hi":1.5},{"t":230,"lo":-1.5,"hi":1.5},{"t":237,"lo":-2,"hi":2},{"t":240,"lo":-4,"hi":4},{"t":242,"lo":-6,"hi":5},{"t":244,"lo":-4,"hi":6},{"t":246,"lo":-5,"hi":4},{"t":248,"lo":-7,"hi":5},{"t":250,"lo":-4,"hi":6},{"t":252,"lo":-5,"hi":7},{"t":254,"lo":-6,"hi":5},{"t":256,"lo":-5,"hi":8},{"t":258,"lo":-7,"hi":6},{"t":260,"lo":-5,"hi":7},{"t":262,"lo":-6,"hi":5},{"t":264,"lo":-4,"hi":8},{"t":266,"lo":-6,"hi":6},{"t":268,"lo":-5,"hi":7},{"t":270,"lo":-7,"hi":11},{"t":272,"lo":-5,"hi":6},{"t":274,"lo":-6,"hi":8},{"t":276,"lo":-4,"hi":10},{"t":278,"lo":-7,"hi":6},{"t":280,"lo":-5,"hi":7},{"t":282,"lo":-3,"hi":4},{"t":284,"lo":-1.5,"hi":1.5},{"t":292,"lo":-1.5,"hi":1.5},{"t":300,"lo":-1.5,"hi":1.5},{"t":306,"lo":-2,"hi":2},{"t":308,"lo":-4,"hi":4},{"t":310,"lo":-3,"hi":5},{"t":312,"lo":-5,"hi":3},{"t":314,"lo":-10,"hi":4},{"t":316,"lo":-4,"hi":5},{"t":318,"lo":-3,"hi":4},{"t":320,"lo":-5,"hi":3},{"t":322,"lo":-3,"hi":4},{"t":324,"lo":-4,"hi":5},{"t":326,"lo":-3,"hi":3},{"t":328,"lo":-5,"hi":4},{"t":330,"lo":-4,"hi":6},{"t":332,"lo":-3,"hi":4},{"t":334,"lo":-5,"hi":3},{"t":336,"lo":-3,"hi":4},{"t":338,"lo":-4,"hi":5},{"t":340,"lo":-3,"hi":3},{"t":342,"lo":-5,"hi":4},{"t":344,"lo":-4,"hi":5},{"t":346,"lo":-3,"hi":3},{"t":348,"lo":-4,"hi":4},{"t":350,"lo":-5,"hi":3},{"t":352,"lo":-3,"hi":5},{"t":354,"lo":-4,"hi":3},{"t":356,"lo":-3,"hi":4},{"t":358,"lo":-4,"hi":3},{"t":360,"lo":-3,"hi":4},{"t":362,"lo":-4,"hi":3},{"t":364,"lo":-2,"hi":2},{"t":370,"lo":-1.5,"hi":2},{"t":376,"lo":-2,"hi":1.5},{"t":382,"lo":-1.5,"hi":2},{"t":388,"lo":-2,"hi":1.5},{"t":391,"lo":-1.5,"hi":1.5}]
}
}
